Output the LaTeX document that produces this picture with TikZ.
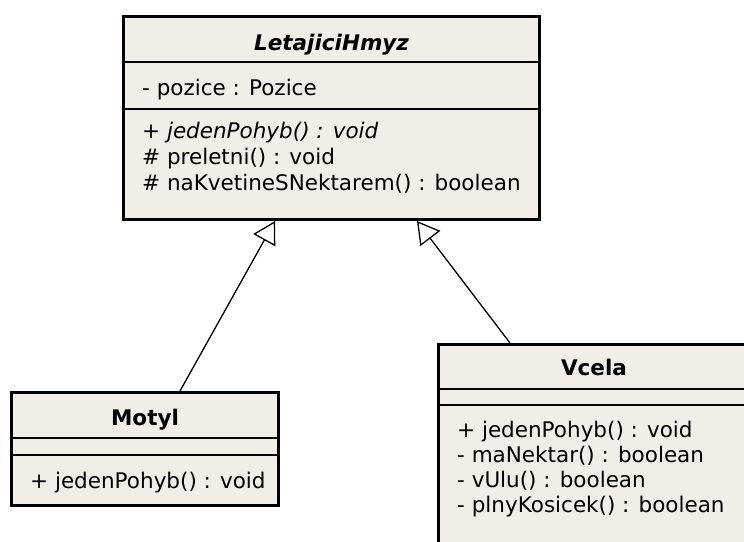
\documentclass[tikz,border=0pt]{standalone}
\usepackage{fontspec}
\setmainfont{DejaVu Sans}
\usetikzlibrary{arrows.meta,positioning}
\definecolor{classfill}{RGB}{241,237,233}

\begin{document}
\begin{tikzpicture}[x=1pt,y=-1pt,
  every node/.style={font=\fontsize{21.5}{25}\selectfont},
  classbox/.style={draw,line width=3pt,fill=classfill,inner sep=0pt},
  sepline/.style={line width=1.3pt},
  member/.style={anchor=west,inner sep=0pt,text height=15pt,text depth=5pt},
  classname/.style={inner sep=0pt,text height=15pt,text depth=5pt,font=\fontsize{21.5}{25}\selectfont\bfseries},
  inherit/.style={line width=1.3pt,-{Triangle[open,length=22pt,width=25pt,fill=white]}}]
\useasboundingbox (0,0) rectangle (744,541);
\clip (0,0) rectangle (744,541);

% abstract class
\node[classbox,minimum width=416pt,minimum height=203pt] (hmyz) at (331.5,118) {};
\draw[sepline] (hmyz.west |- 0,62) -- (hmyz.east |- 0,62);
\draw[sepline] (hmyz.west |- 0,109) -- (hmyz.east |- 0,109);
\node[classname,font=\fontsize{21.5}{25}\selectfont\bfseries\itshape] (hmyzname) at (331.5,45) {LetajiciHmyz};
\node[member] (pozice) at (142,90) {- pozice : Pozice};
\node[member,font=\fontsize{21.5}{25}\selectfont\itshape] (hpohyb) at (142,133) {+ jedenPohyb() : void};
\node[member] (preletni) at (142,159) {\# preletni() : void};
\node[member] (nakvetine) at (142,185) {\# naKvetineSNektarem() : boolean};

% subclasses
\node[classbox,minimum width=267pt,minimum height=113pt] (motyl) at (145,449) {};
\draw[sepline] (motyl.west |- 0,438) -- (motyl.east |- 0,438);
\draw[sepline] (motyl.west |- 0,455) -- (motyl.east |- 0,455);
\node[classname] (motylname) at (145,420) {Motyl};
\node[member] (mpohyb) at (30,483) {+ jedenPohyb() : void};

\node[classbox,minimum width=331pt,minimum height=255pt] (vcela) at (604,472) {};
\draw[sepline] (vcela.west |- 0,389) -- (vcela.east |- 0,389);
\draw[sepline] (vcela.west |- 0,405) -- (vcela.east |- 0,405);
\node[classname] (vcelaname) at (594,370) {Vcela};
\node[member] (vpohyb) at (457,432) {+ jedenPohyb() : void};
\node[member] (manektar) at (457,457) {- maNektar() : boolean};
\node[member] (vulu) at (457,482) {- vUlu() : boolean};
\node[member] (plny) at (457,507) {- plnyKosicek() : boolean};

% generalisation
\draw[inherit] ([xshift=35pt]motyl.north) -- ([xshift=-56.5pt]hmyz.south);
\draw[inherit] ([xshift=-94pt]vcela.north) -- ([xshift=85.5pt]hmyz.south);
\end{tikzpicture}
\end{document}
